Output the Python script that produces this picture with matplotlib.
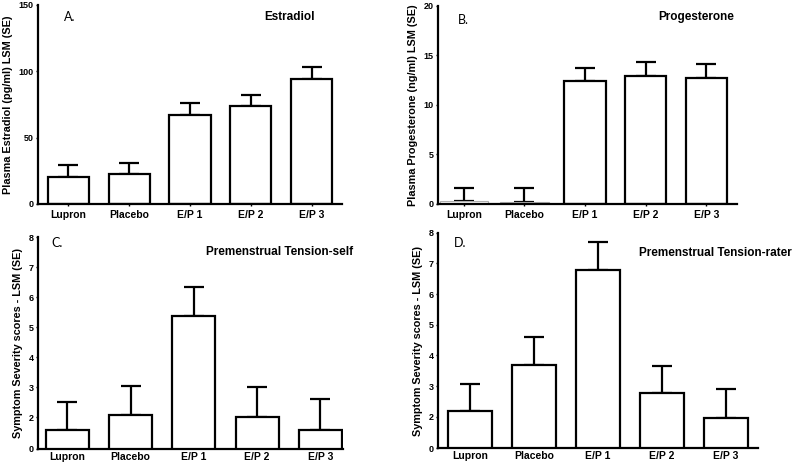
import matplotlib.pyplot as plt

plt.rcParams['font.family'] = ['Liberation Sans', 'DejaVu Sans']

groups = ["Lupron", "Placebo", "E/P 1", "E/P 2", "E/P 3"]

# panel A: estradiol
estradiol = [20.5, 22.4, 66.8, 73.6, 94.0]
estradiol_se = [8.9, 8.3, 9.1, 8.8, 9.2]
# panel B: progesterone
progesterone = [0.27, 0.25, 12.37, 12.94, 12.70]
progesterone_se = [1.38, 1.35, 1.31, 1.34, 1.38]
# panel C: premenstrual tension, self report
pmt_self = [1.58, 2.08, 5.38, 2.03, 1.58]
pmt_self_se = [0.94, 0.96, 0.95, 0.97, 1.02]
# panel D: premenstrual tension, rater
pmt_rater = [2.18, 3.67, 6.79, 2.76, 1.95]
pmt_rater_se = [0.90, 0.92, 0.92, 0.90, 0.94]

W, H = 800, 463
fig = plt.figure(figsize=(8, 4.63), dpi=100)


def px_axes(left, top, right, bottom):
    return fig.add_axes([left / W, 1 - bottom / H, (right - left) / W, (bottom - top) / H])


def panel(ax, vals, se, ylim, yticks, yticklabels, ylabel, xlim, faint=(), xpad=2.5, xtick_len=1.5):
    x = range(len(groups))
    for i, (v, e) in enumerate(zip(vals, se)):
        if i in faint:
            ax.bar(i, v, width=0.8, color="white", edgecolor="#b0b0b0", linewidth=0.8, zorder=2)
        else:
            ax.bar(i, v, width=0.68, color="white", edgecolor="black", linewidth=1.6, zorder=2)
        ax.errorbar(i, v, yerr=[[0], [e]], fmt="none", ecolor="black",
                    elinewidth=1.6, capsize=7, capthick=1.6, zorder=1)
    ax.set_xlim(*xlim)
    ax.set_ylim(*ylim)
    ax.set_xticks(list(x))
    ax.set_xticklabels(groups, fontsize=7.5, fontweight="bold")
    ax.set_yticks(yticks)
    ax.set_yticklabels(yticklabels, fontsize=6.5, fontweight="bold")
    ax.set_ylabel(ylabel, fontsize=7.8, fontweight="bold", labelpad=4)
    for s in ["top", "right"]:
        ax.spines[s].set_visible(False)
    for s in ["left", "bottom"]:
        ax.spines[s].set_linewidth(1.6)
    ax.tick_params(axis="y", length=1.5, width=1, pad=1.5)
    ax.tick_params(axis="x", length=xtick_len, width=1, pad=xpad)


axA = px_axes(38, 5, 342, 204)
panel(axA, estradiol, estradiol_se, (0, 150), [0, 50, 100, 150], ["0", "50", "100", "150"],
      "Plasma Estradiol (pg/ml) LSM (SE)", (-0.5, 4.5))

axB = px_axes(437.7, 5.7, 736.7, 204)
panel(axB, progesterone, progesterone_se, (0, 20), [0, 5, 10, 15, 20], ["0", "5", "10", "15", "20"],
      "Plasma Progesterone (ng/ml) LSM (SE)", (-0.43, 4.5), faint=(0, 1))

sev_ticks = [0.95, 2, 3, 4, 5, 6, 7, 8]
sev_labels = ["0", "2", "3", "4", "5", "6", "7", "8"]

axC = px_axes(37.7, 237.3, 343, 449)
panel(axC, pmt_self, pmt_self_se, (0.95, 8), sev_ticks, sev_labels,
      "Symptom Severity scores - LSM (SE)", (-0.47, 4.36), xpad=1.8, xtick_len=0)

axD = px_axes(437.7, 232.7, 758, 448.3)
panel(axD, pmt_rater, pmt_rater_se, (0.97, 8), [0.97] + sev_ticks[1:], sev_labels,
      "Symptom Severity scores - LSM (SE)", (-0.5, 4.5), xpad=1.8, xtick_len=0)

# panel letters and titles, placed in figure pixels
letters = [("A.", 64, 17), ("B.", 458, 20), ("C.", 51, 243), ("D.", 454, 243)]
for t, x, y in letters:
    fig.text(x / W, 1 - y / H, t, fontsize=9, family=["Lato", "DejaVu Sans"], va="center", ha="left")

titles = [("Estradiol", 264, 17), ("Progesterone", 658, 17),
          ("Premenstrual Tension-self", 206, 252), ("Premenstrual Tension-rater", 639, 253)]
for t, x, y in titles:
    fig.text(x / W, 1 - y / H, t, fontsize=8.5, fontweight="bold", va="center", ha="left")

fig.savefig("out.png", dpi=100)
